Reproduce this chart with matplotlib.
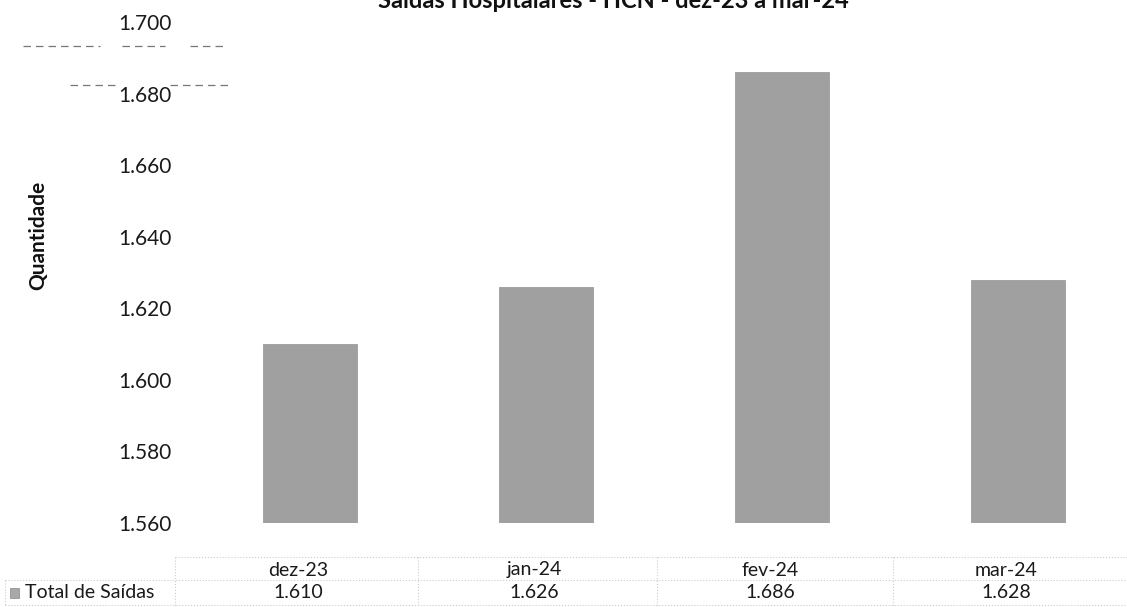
import matplotlib
matplotlib.use('Agg')
import matplotlib.pyplot as plt
import matplotlib.transforms as mtransforms
from matplotlib.lines import Line2D
from matplotlib.patches import Rectangle

# data
meses = ['dez-23', 'jan-24', 'fev-24', 'mar-24']
total_saidas = [1610, 1626, 1686, 1628]
serie = 'Total de Saídas'
titulo = 'Saídas Hospitalares - HCN - dez-23 a mar-24'
yticks = [1560, 1580, 1600, 1620, 1640, 1660, 1680, 1700]

plt.rcParams['font.family'] = ['Lato', 'DejaVu Sans']

def fmt_br(v):
	# 1610 -> "1.610"
	return '{:,}'.format(int(v)).replace(',', '.')

fig = plt.figure(figsize=(11.27, 6.07), dpi=100)
ax = fig.add_axes([192/1127., 84/607., 944/1127., 501/607.])

x = list(range(len(meses)))
ax.bar(x, total_saidas, width=0.4, color='#a0a0a0', edgecolor='#939393', linewidth=0.5, zorder=2)

ax.set_xlim(-0.5, len(meses)-0.5)
ax.set_ylim(yticks[0], yticks[-1])
ax.set_yticks(yticks)
ax.set_yticklabels([fmt_br(v) for v in yticks], fontsize=15, color='#1a1a1a')
ax.tick_params(axis='y', length=0, pad=15)
ax.set_xticks([])
for s in ax.spines.values():
	s.set_visible(False)

# title (cut by the scan at the top edge)
fig.text(613/1127., 1 - 8/607., titulo, ha='center', va='baseline', fontsize=17,
	fontweight='bold', color='#111111')

# y label
fig.text(38/1127., 1 - 235/607., 'Quantidade', rotation=90, ha='center', va='center',
	fontsize=15, fontweight='bold', color='#111111')

# data table below the plot
trans = mtransforms.blended_transform_factory(ax.transData, fig.transFigure)
y_cat = 1 - 570/607.
y_val = 1 - 593/607.
for i, m in enumerate(meses):
	ax.text(i - 0.05, y_cat, m, transform=trans, ha='center', va='center', fontsize=14,
		color='#1a1a1a', clip_on=False)
	ax.text(i - 0.05, y_val, fmt_br(total_saidas[i]), transform=trans, ha='center', va='center',
		fontsize=14, color='#1a1a1a', clip_on=False)

fig.text(25/1127., y_val, serie, ha='left', va='center', fontsize=14, color='#1a1a1a')
fig.patches.append(Rectangle((10/1127., 1 - 598/607.), 9/1127., 10/607., transform=fig.transFigure,
	facecolor='#a8a8a8', edgecolor='#888888', linewidth=0.5))

# dotted table grid
grid_kw = dict(color='#cccccc', linestyle=':', linewidth=0.8, transform=fig.transFigure)
fig.lines.append(Line2D([175/1127., 1], [1 - 557/607.]*2, **grid_kw))
fig.lines.append(Line2D([5/1127., 1], [1 - 580/607.]*2, **grid_kw))
fig.lines.append(Line2D([5/1127., 1], [1 - 605/607.]*2, **grid_kw))
for xb in [5, 175, 418, 657, 893]:
	fig.lines.append(Line2D([xb/1127.]*2, [1 - 557/607. if xb > 5 else 1 - 580/607., 0], **grid_kw))

# scan artefacts at upper-left
dash_kw = dict(color='#777777', linestyle=(0, (6, 4)), linewidth=0.9, transform=fig.transFigure)
fig.lines.append(Line2D([23/1127., 100/1127.], [1 - 46/607.]*2, **dash_kw))
fig.lines.append(Line2D([122/1127., 165/1127.], [1 - 46/607.]*2, **dash_kw))
fig.lines.append(Line2D([190/1127., 225/1127.], [1 - 46/607.]*2, **dash_kw))
fig.lines.append(Line2D([70/1127., 118/1127.], [1 - 85/607.]*2, **dash_kw))
fig.lines.append(Line2D([170/1127., 228/1127.], [1 - 85/607.]*2, **dash_kw))

plt.savefig('out.png', dpi=100)
